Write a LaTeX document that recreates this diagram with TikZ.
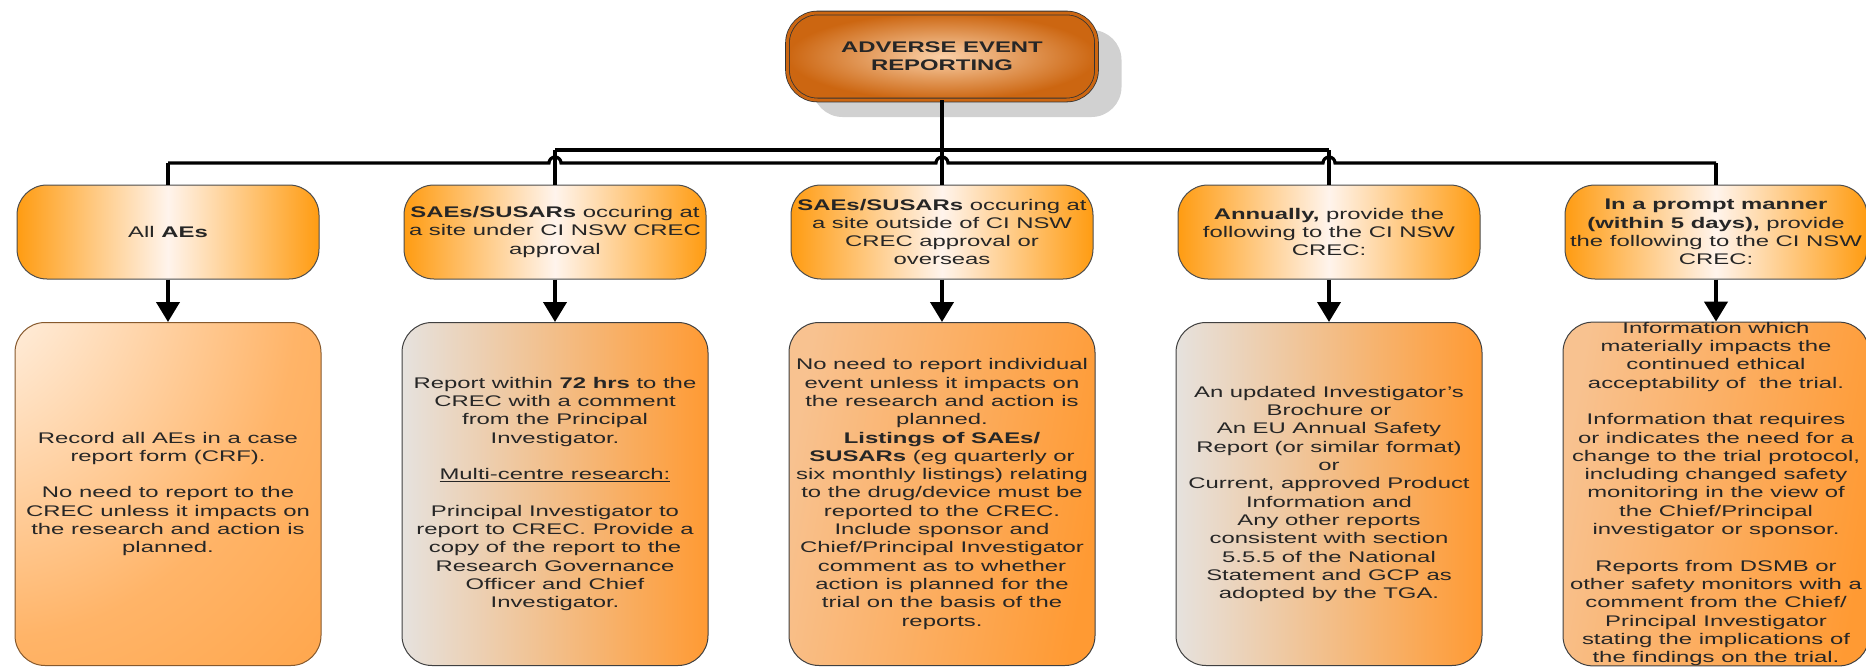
\documentclass[tikz,border=0pt]{standalone}
\usepackage{fontspec}
\setmainfont{Liberation Sans}[FakeStretch=1.55]
\usepackage{tikz}
\usetikzlibrary{positioning, arrows.meta, shadows}

\definecolor{rootdark}{HTML}{CC6611}
\definecolor{rootlight}{HTML}{FAD0A8}
\definecolor{headorange}{HTML}{FF9C12}
\definecolor{headlight}{HTML}{FFF4EC}
\definecolor{bodyorange}{HTML}{FF9A33}
\definecolor{bodygrey}{HTML}{E6E2DE}
\definecolor{bodypeach}{HTML}{F8C290}
\definecolor{bodymid}{HTML}{FFB468}
\definecolor{textgrey}{HTML}{262626}

\pgfdeclareradialshading{cornerglow}{\pgfpoint{-45bp}{45bp}}{color(0bp)=(white); color(20bp)=(white!80!bodyorange); color(50bp)=(bodymid); color(85bp)=(bodyorange); color(140bp)=(bodyorange)}

\tikzset{
  boxtext/.style={font=\fontsize{15.4}{18.3}\selectfont, text=textgrey, align=center, inner sep=0pt},
  rootbox/.style={boxtext, rounded corners=30pt, minimum width=309pt, minimum height=87pt,
    inner color=rootlight, outer color=rootdark, draw=black!80, line width=0.8pt,
    double=rootdark, double distance=3pt,
    drop shadow={shadow xshift=25pt, shadow yshift=-17pt, fill=black!36, opacity=0.5, draw=none}},
  headbox/.style={boxtext, rounded corners=30pt, minimum width=302pt, minimum height=94pt,
    left color=headorange, right color=headorange, middle color=headlight, draw=black!70, line width=1pt},
  bodybox/.style={boxtext, rounded corners=30pt, minimum width=306pt, minimum height=343pt,
    left color=#1, right color=bodyorange, draw=black!75, line width=1pt},
  connector/.style={line width=4.5pt},
  busline/.style={line width=3.2pt},
  arrowline/.style={line width=4pt, -{Triangle[width=23pt, length=20pt]}},
}

\begin{document}
\begin{tikzpicture}[x=1pt, y=1pt]
    \useasboundingbox (0,0) rectangle (1866,-667);

    \node[rootbox] (root) at (942,-56.5) {\textbf{ADVERSE EVENT}\\\textbf{REPORTING}};

    \node[headbox] (ae) at (168,-232) {All \textbf{AEs}};
    \node[headbox] (site) at (555,-232) {\textbf{SAEs/SUSARs} occuring at\\a site under CI NSW CREC\\approval};
    \node[headbox] (outside) at (942,-232) {\textbf{SAEs/SUSARs} occuring at\\a site outside of CI NSW\\CREC approval or\\overseas};
    \node[headbox] (annual) at (1329,-232) {\textbf{Annually,} provide the\\following to the CI NSW\\CREC:};
    \node[headbox] (prompt) at (1716,-232) {\textbf{In a prompt manner}\\\textbf{(within 5 days),} provide\\the following to the CI NSW\\CREC:};

    \node[bodybox=white, shading=cornerglow, shading angle=0, draw=brown!70!black] (ae-info) at (168,-494)
        {Record all AEs in a case\\report form (CRF).\\[18.3pt]No need to report to the\\CREC unless it impacts on\\the research and action is\\planned.};
    \node[bodybox=bodygrey] (site-info) at (555,-494)
        {Report within \textbf{72 hrs} to the\\CREC with a comment\\from the Principal\\Investigator.\\[18.3pt]\underline{Multi-centre research:}\\[18.3pt]Principal Investigator to\\report to CREC. Provide a\\copy of the report to the\\Research Governance\\Officer and Chief\\Investigator.};
    \node[bodybox=bodypeach, shading angle=80] (outside-info) at (942,-494)
        {No need to report individual\\event unless it impacts on\\the research and action is\\planned.\\\textbf{Listings of SAEs/}\\\textbf{SUSARs} (eg quarterly or\\six monthly listings) relating\\to the drug/device must be\\reported to the CREC.\\Include sponsor and\\Chief/Principal Investigator\\comment as to whether\\action is planned for the\\trial on the basis of the\\reports.};
    \node[bodybox=bodygrey] (annual-info) at (1329,-494)
        {An updated Investigator's\\Brochure or\\An EU Annual Safety\\Report (or similar format)\\or\\Current, approved Product\\Information and\\Any other reports\\consistent with section\\5.5.5 of the National\\Statement and GCP as\\adopted by the TGA.};
    \node[bodybox=bodypeach, shading angle=80] (prompt-info) at (1716,-494)
        {Information which\\materially impacts the\\continued ethical\\acceptability of \ the trial.\\[18.3pt]Information that requires\\or indicates the need for a\\change to the trial protocol,\\including changed safety\\monitoring in the view of\\the Chief/Principal\\investigator or sponsor.\\[18.3pt]Reports from DSMB or\\other safety monitors with a\\comment from the Chief/\\Principal Investigator\\stating the implications of\\the findings on the trial.};

    \coordinate (upper) at (942,-150);
    \coordinate (lower) at (942,-163);

    \draw[connector] (root) -- (outside);
    \draw[busline] (site.north |- upper) -- (annual.north |- upper);
    \draw[connector] (site) -- (site.north |- upper);
    \draw[connector] (annual) -- (annual.north |- upper);

    \draw[busline] (ae.north |- lower) -- ([xshift=-6pt]site.north |- lower) arc (180:0:6pt)
        -- ([xshift=-6pt]lower) arc (180:0:6pt)
        -- ([xshift=-6pt]annual.north |- lower) arc (180:0:6pt) -- (prompt.north |- lower);
    \draw[connector] (ae) -- (ae.north |- lower);
    \draw[connector] (prompt) -- (prompt.north |- lower);

    \foreach \n in {ae, site, outside, annual, prompt}
    {
    \draw[arrowline] (\n) -- (\n-info);
    }
\end{tikzpicture}
\end{document}
